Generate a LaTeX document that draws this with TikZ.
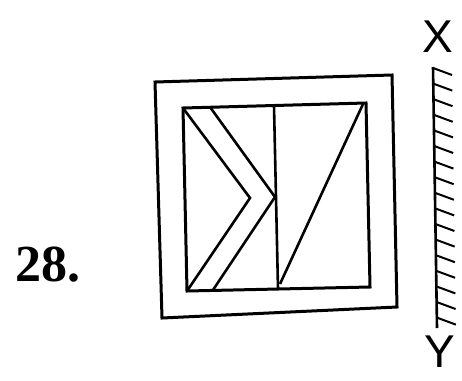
\documentclass[tikz,border=0pt]{standalone}
\usepackage{fontspec}
\setmainfont{Liberation Serif}
\newfontfamily\labelsans{Liberation Sans}
\begin{document}
\begin{tikzpicture}[x=1pt,y=-1pt,
  figline/.style={line width=3pt,line join=miter},
  thinline/.style={line width=2.6pt},
  hatchline/.style={line width=2pt},
  lbl/.style={font=\labelsans\fontsize{46}{46}\selectfont,inner sep=0pt}]
\useasboundingbox (0,0) rectangle (462,380);
% outer square
\coordinate (O1) at (155,82);
\coordinate (O2) at (392,75);
\coordinate (O3) at (397,307);
\coordinate (O4) at (162,318);
\draw[figline] (O1) -- (O2) -- (O3) -- (O4) -- cycle;
% inner square
\coordinate (I1) at (183,108);
\coordinate (I2) at (366,103);
\coordinate (I3) at (370,287);
\coordinate (I4) at (187,291);
\draw[figline] (I1) -- (I2) -- (I3) -- (I4) -- cycle;
% middle vertical
\coordinate (Mt) at (274,106);
\coordinate (Mb) at (278,289);
\draw[thinline] (Mt) -- (Mb);
% chevron
\coordinate (Ca) at (250,198);
\draw[thinline] (I1) -- (Ca) -- (I4);
\coordinate (Ct) at (210,107);
\coordinate (Cm) at (275,197);
\coordinate (Cb) at (213,290);
\draw[thinline] (Ct) -- (Cm) -- (Cb);
% right diagonal
\coordinate (Dt) at (363,104);
\coordinate (Db) at (280,284);
\draw[thinline] (Dt) -- (Db);
% mirror
\coordinate (Xm) at (433,67);
\coordinate (Ym) at (437,328);
\draw[thinline] (Xm) -- (Ym);
\foreach \i in {0,...,16} {
  \pgfmathsetmacro{\yy}{68+\i*15.6}
  \pgfmathsetmacro{\xx}{433+(\yy-67)*4/261}
  \draw[hatchline] (\xx,\yy) -- ++(19,7);
}
% labels
\node[lbl] (X) at (438,37) {X};
\node[lbl] (Y) at (440,352) {Y};
\node[inner sep=0pt,font=\bfseries\fontsize{52}{52}\selectfont] (num) at (48,265) {28.};
\end{tikzpicture}
\end{document}
